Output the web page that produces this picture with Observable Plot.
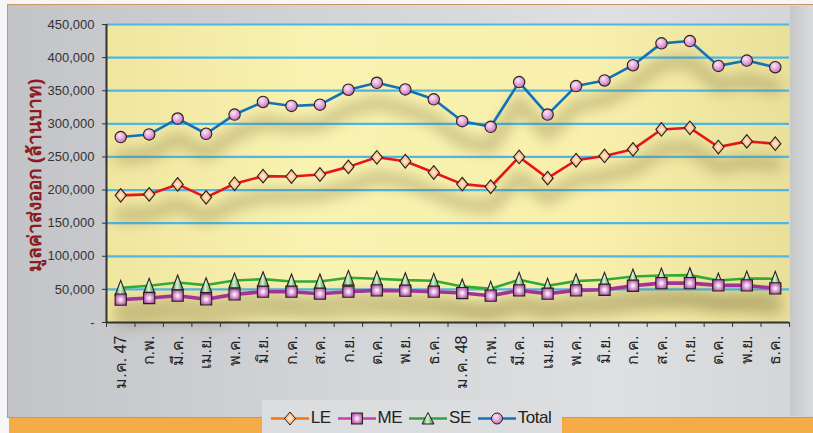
<!DOCTYPE html>
<html><head><meta charset="utf-8">
<script src="https://cdn.jsdelivr.net/npm/d3@7"></script>
<script src="https://cdn.jsdelivr.net/npm/@observablehq/plot@0.6"></script>
<style>
body{margin:0;width:813px;height:433px;overflow:hidden;background:#f6f6f6;position:relative;font-family:"Liberation Sans",Arial,sans-serif}
#panel{position:absolute;left:7px;top:4px;width:806px;height:412px;background:linear-gradient(to right,#c3c4c7,#d3d4d7 40%,#dfe0e2 75%,#d3d4d6);border-top:1.5px solid #c49a62;border-left:1.5px solid #c49a62;border-bottom:1.5px solid #c49a62}
#orange{position:absolute;left:9px;top:418px;width:804px;height:22px;background:#f5ac48;border-radius:0 0 0 7px}
#legbox{position:absolute;left:262px;top:400px;width:300px;height:33px;background:#dcdddf}
#rightband{position:absolute;left:790px;top:6px;width:23px;height:410px;background:linear-gradient(to right,#c6c7c9,#dadbdd)}
#chart{position:absolute;left:0;top:0}
#legend{position:absolute;top:408px;left:0;width:813px;display:flex;justify-content:center;align-items:center;font-family:"Liberation Sans Narrow","Liberation Sans",Arial,sans-serif;font-size:17px;color:#222;padding-left:16px;box-sizing:border-box;letter-spacing:-0.5px}
#legend .it{display:flex;align-items:center;margin-right:7px}
#legend svg{margin-right:2px}
</style>
</head><body>
<div id="panel"></div>
<div id="rightband"></div>
<div id="orange"></div>
<div id="legbox"></div>
<div id="chart"></div>
<div id="legend"></div>
<script>
const months = ["ม.ค. 47","ก.พ.","มี.ค.","เม.ย.","พ.ค.","มิ.ย.","ก.ค.","ส.ค.","ก.ย.","ต.ค.","พ.ย.","ธ.ค.",
                "ม.ค. 48","ก.พ.","มี.ค.","เม.ย.","พ.ค.","มิ.ย.","ก.ค.","ส.ค.","ก.ย.","ต.ค.","พ.ย.","ธ.ค."];
const LE    = [192000,193500,208500,189000,209500,221000,220500,223500,235000,249500,243500,226500,
               209000,205000,250000,218000,245000,251500,261500,291500,294000,265000,273500,270000];
const ME    = [34500,37000,40500,35000,42500,46500,46500,43500,46500,48500,48000,46500,
               44500,40500,48500,43500,48500,49500,55500,59500,59500,56000,56000,51500];
const SE    = [52500,55500,60500,56500,63500,65500,62000,62000,67500,66000,64000,63000,
               54500,51000,64500,55500,62500,64500,69500,71000,71500,63500,66500,66000];
const Total = [280000,284000,308000,285000,314000,333000,327000,329000,351500,362000,352000,337000,
               304000,295500,363000,314000,357000,365500,388500,421500,425000,387500,395500,385500];
const yTicks = [0,50000,100000,150000,200000,250000,300000,350000,400000,450000];
const yTitle = "มูลค่าส่งออก (ล้านบาท)";
const seriesNames = ["LE","ME","SE","Total"];

const seriesData = {LE, ME, SE, Total};
const rows = s => seriesData[s].map((v,i)=>({i, v, s}));

const sym = (f) => ({draw(ctx, size){ const r = Math.sqrt(size/Math.PI); f(ctx, r); }});
const diamond = sym((c,r)=>{const w=r*0.95,h=r*1.15;c.moveTo(0,-h);c.lineTo(w,0);c.lineTo(0,h);c.lineTo(-w,0);c.closePath();});
const square  = sym((c,r)=>{const a=r*0.95;c.moveTo(-a,-a);c.lineTo(a,-a);c.lineTo(a,a);c.lineTo(-a,a);c.closePath();});
const tri     = sym((c,r)=>{const w=r*0.95,h=r*1.25;c.moveTo(0,-h);c.lineTo(w,h);c.lineTo(-w,h);c.closePath();});

const style = {
  LE:    {stroke:"#e8141c", sw:2.6, symbol:diamond, fill:"url(#gLE)", r:5.9},
  ME:    {stroke:"#a4309c", sw:3.6, symbol:square,  fill:"url(#gME)", r:5.9},
  SE:    {stroke:"#33aa33", sw:2.6, symbol:tri,     fill:"url(#gSE)", r:5.9},
  Total: {stroke:"#1272b8", sw:2.6, symbol:"circle",fill:"url(#gTot)", r:5.7}
};
const SHADOW = "#6a5c2a";

const marks = [
  Plot.frame({fill:"url(#plotbg)", stroke:null}),
  Plot.gridY(yTicks.filter(v=>v>0), {stroke:"#4bb8e8", strokeOpacity:1, strokeWidth:2.2}),
];
for (const s of seriesNames) {
  marks.push(Plot.line(rows(s), {x:"i", y:"v", dy:20, stroke:SHADOW, strokeOpacity:0.32, strokeWidth:13}));
}
marks.push(
  Plot.ruleY([0], {stroke:"#333", strokeWidth:2}),
  Plot.ruleX([-0.5], {stroke:"#333", strokeWidth:2}),
  Plot.axisY({ticks:yTicks, tickFormat:v=>v===0?"-":d3.format(",")(v), tickSize:4, tickPadding:8, fontSize:13, label:null, stroke:"#333", color:"#333"}),
  Plot.axisX({ticks:d3.range(-0.5,24,1), tickFormat:()=>"", tickSize:5, label:null, stroke:"#333"}),
  Plot.axisX({ticks:d3.range(24), tickFormat:i=>months[i], tickSize:0, tickPadding:13, tickRotate:-90, fontSize:16, label:null, color:"#222", ariaLabel:"xlabels"}),
  Plot.text([yTitle], {frameAnchor:"left", dx:-72, dy:2, rotate:-90, textAnchor:"middle", fill:"#8c1c22", fontWeight:"bold", fontSize:19, ariaLabel:"ytitle"})
);
for (const s of ["SE","ME","LE","Total"]) {
  const st = style[s];
  marks.push(Plot.line(rows(s), {x:"i", y:"v", stroke:st.stroke, strokeWidth:st.sw}));
}
for (const s of ["SE","ME","LE","Total"]) {
  const st = style[s];
  marks.push(Plot.dot(rows(s), {x:"i", y:"v", symbol:st.symbol, r:st.r, fill:st.fill, stroke:"#2a2020", strokeWidth:1.1}));
}

const chart = Plot.plot({
  width:813, height:433,
  marginLeft:106, marginRight:24, marginTop:24, marginBottom:111,
  style:{background:"transparent", fontFamily:"'Liberation Sans', Arial, sans-serif", overflow:"visible"},
  x:{type:"linear", domain:[-0.5,23.5]},
  y:{domain:[0,450000]},
  marks
});

const defs = `
<defs>
 <linearGradient id="plotbg" x1="0" x2="1" y1="0" y2="0">
  <stop offset="0" stop-color="#efe6a0"/><stop offset="0.3" stop-color="#f9f2b0"/><stop offset="0.7" stop-color="#f8f0ac"/><stop offset="1" stop-color="#e9e09a"/>
 </linearGradient>
 <radialGradient id="gTot" cx="0.4" cy="0.35" r="0.65"><stop offset="0" stop-color="#fbe6f6"/><stop offset="0.6" stop-color="#e2a2d8"/><stop offset="1" stop-color="#c06cb2"/></radialGradient>
 <radialGradient id="gLE" cx="0.5" cy="0.5" r="0.55"><stop offset="0" stop-color="#fff0dc"/><stop offset="0.6" stop-color="#fbbf88"/><stop offset="1" stop-color="#f08c40"/></radialGradient>
 <radialGradient id="gME" cx="0.5" cy="0.5" r="0.6"><stop offset="0" stop-color="#ffffff"/><stop offset="0.5" stop-color="#d89ad2"/><stop offset="1" stop-color="#a2409a"/></radialGradient>
 <linearGradient id="gSE" x1="0" x2="1" y1="0" y2="0"><stop offset="0" stop-color="#2f8a38"/><stop offset="0.45" stop-color="#d8f4d4"/><stop offset="1" stop-color="#2a8a34"/></linearGradient>
</defs>`;
chart.insertAdjacentHTML("afterbegin", defs);
chart.querySelectorAll(`[stroke="${SHADOW}"]`).forEach(g=>{g.style.filter="blur(7px)";});
chart.querySelectorAll('[aria-label="xlabels"] text, [aria-label="ytitle"] text').forEach(t=>t.style.letterSpacing="1.3px");
document.getElementById("chart").appendChild(chart);

// legend
const legColors = {LE:"#f07418", ME:"#cc3cb4", SE:"#33a044", Total:"#1272c0"};
const legMarker = {
  LE:'<path d="M19,2 L24.5,8.5 L19,15 L13.5,8.5Z" fill="url(#gLE)" stroke="#2a2020" stroke-width="1"/>',
  ME:'<rect x="13.5" y="3" width="11" height="11" fill="url(#gME)" stroke="#2a2020" stroke-width="1"/>',
  SE:'<path d="M19,2.5 L25,14 L13,14Z" fill="url(#gSE)" stroke="#2a2020" stroke-width="1"/>',
  Total:'<circle cx="19" cy="8.5" r="5.5" fill="url(#gTot)" stroke="#2a2020" stroke-width="1"/>'
};
const leg = document.getElementById("legend");
for (const s of seriesNames) {
  const it = document.createElement("div"); it.className="it";
  it.innerHTML = `<svg width="38" height="17"><line x1="0" x2="38" y1="8.5" y2="8.5" stroke="${legColors[s]}" stroke-width="2.6"/>${legMarker[s]}</svg><span>${s}</span>`;
  leg.appendChild(it);
}
</script>
</body></html>
